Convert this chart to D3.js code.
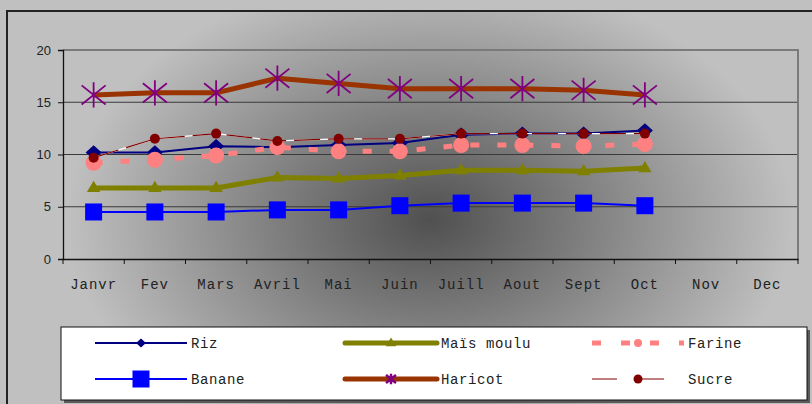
<!DOCTYPE html>
<html><head><meta charset="utf-8">
<script src="https://cdn.jsdelivr.net/npm/d3@7"></script>
<style>html,body{margin:0;padding:0;background:#fff;}svg{display:block;}</style>
</head><body>
<svg id="chart" width="812" height="404"></svg>
<script>
const months = ["Janvr","Fev","Mars","Avril","Mai","Juin","Juill","Aout","Sept","Oct","Nov","Dec"];
const yTicks = [0,5,10,15,20];
const riz = [10.2,10.2,10.8,10.7,10.9,11.1,11.9,12.0,12.0,12.3];
const mais = [6.8,6.8,6.8,7.8,7.7,8.0,8.5,8.5,8.4,8.7];
const farine = [9.2,9.5,9.9,10.7,10.3,10.3,10.9,10.9,10.8,11.0];
const banane = [4.5,4.5,4.5,4.7,4.7,5.1,5.35,5.35,5.35,5.1];
const haricot = [15.7,15.9,15.9,17.3,16.8,16.3,16.3,16.3,16.15,15.7];
const sucre = [9.7,11.5,12.0,11.3,11.5,11.5,12.0,12.0,12.0,12.0];
const seriesNames = ["Riz","Maïs moulu","Farine","Banane","Haricot","Sucre"];

const svg = d3.select("#chart");
const defs = svg.append("defs");
const rg = defs.append("radialGradient").attr("id","bg").attr("gradientUnits","userSpaceOnUse")
  .attr("cx",430).attr("cy",220).attr("r",330)
  .attr("gradientTransform","translate(430,220) scale(1.1,0.75) translate(-430,-220)");
rg.append("stop").attr("offset","0%").attr("stop-color","#505050");
rg.append("stop").attr("offset","40%").attr("stop-color","#7c7c7c");
rg.append("stop").attr("offset","100%").attr("stop-color","#c0c0c0");

svg.append("rect").attr("x",0).attr("y",0).attr("width",812).attr("height",404).attr("fill","#c0c0c0");
svg.append("rect").attr("x",7).attr("y",11).attr("width",820).attr("height",420).attr("fill","url(#bg)")
  .attr("stroke","#222").attr("stroke-width",2);

const L=63, R=798, T=50, B=259;
const x = d3.scaleBand().domain(months).range([L,R]);
const y = d3.scaleLinear().domain([0,20]).range([B,T]);
const cx = i => x(months[i]) + x.bandwidth()/2;

svg.append("g").selectAll("line").data([5,10,15]).join("line")
  .attr("x1",L).attr("x2",R).attr("y1",d=>y(d)).attr("y2",d=>y(d))
  .attr("stroke","#3a3a3a").attr("stroke-width",1.2);
svg.append("path").attr("d",`M${L},${y(20)}H${R}V${B}`).attr("fill","none").attr("stroke","#7a7a7a").attr("stroke-width",2);

const yAxis = svg.append("g").attr("transform",`translate(${L},0)`)
  .call(d3.axisLeft(y).tickValues(yTicks).tickSize(5).tickPadding(7));
yAxis.select(".domain").attr("stroke","#111").attr("stroke-width",1.3);
yAxis.selectAll("line").attr("stroke","#111");
yAxis.selectAll("text").attr("font-family","Liberation Sans, Arial, sans-serif").attr("font-size",13).attr("fill","#222");

const xAxis = svg.append("g").attr("transform",`translate(0,${B})`)
  .call(d3.axisBottom(x).tickSize(0).tickPadding(20));
xAxis.select(".domain").attr("stroke","#111").attr("stroke-width",1.3);
xAxis.selectAll("text").attr("font-family","Liberation Mono, Courier New, monospace").attr("font-size",14)
  .attr("letter-spacing",1).attr("fill","#222");
svg.append("g").selectAll("line").data(d3.range(months.length+1)).join("line")
  .attr("x1",i=>L+i*x.bandwidth()).attr("x2",i=>L+i*x.bandwidth())
  .attr("y1",B).attr("y2",B+5).attr("stroke","#111");

const line = d3.line().x((d,i)=>cx(i)).y(d=>y(d));

function diamond(g,px,py,col,s){g.append("path").attr("d",`M${px},${py-s*0.9}L${px+s},${py}L${px},${py+s*0.9}L${px-s},${py}Z`).attr("fill",col);}
function square(g,px,py,col,s){g.append("rect").attr("x",px-s/2).attr("y",py-s/2).attr("width",s).attr("height",s).attr("fill",col);}
function triangle(g,px,py,col,s){g.append("path").attr("d",`M${px},${py-s*0.8}L${px+s*0.75},${py+s*0.45}L${px-s*0.75},${py+s*0.45}Z`).attr("fill",col);}
function circle(g,px,py,col,r){g.append("circle").attr("cx",px).attr("cy",py).attr("r",r).attr("fill",col);}
function star(g,px,py,col,s,w){
  const p=`M${px-s},${py-s*0.8}L${px+s},${py+s*0.8}M${px+s},${py-s*0.8}L${px-s},${py+s*0.8}M${px},${py-s*1.05}V${py+s*1.05}`;
  g.append("path").attr("d",p).attr("stroke",col).attr("stroke-width",w).attr("fill","none");
}

const series = [
  {name:seriesNames[0], data:riz, col:"#000080", w:2, dash:null, mk:(g,a,b)=>diamond(g,a,b,"#000080",8), lmk:(g,a,b)=>diamond(g,a,b,"#000080",5)},
  {name:seriesNames[1], data:mais, col:"#808000", w:5, dash:null, mk:(g,a,b)=>triangle(g,a,b,"#808000",9), lmk:(g,a,b)=>triangle(g,a,b,"#808000",7)},
  {name:seriesNames[2], data:farine, col:"#ff8080", w:5, dash:"9,18", mk:(g,a,b)=>circle(g,a,b,"#ff8080",8), lmk:(g,a,b)=>circle(g,a,b,"#ff8080",4)},
  {name:seriesNames[3], data:banane, col:"#0000ff", w:2, dash:null, mk:(g,a,b)=>square(g,a,b,"#0000ff",17), lmk:(g,a,b)=>square(g,a,b,"#0000ff",17)},
  {name:seriesNames[4], data:haricot, col:"#993300", w:5, dash:null, mk:(g,a,b)=>star(g,a,b,"#800080",12,1.8), lmk:(g,a,b)=>star(g,a,b,"#800080",5,2.5)},
  {name:seriesNames[5], data:sucre, col:"#800000", w:1.2, dash:"26,8", under:"#ffffff", mk:(g,a,b)=>circle(g,a,b,"#800000",5), lmk:(g,a,b)=>circle(g,a,b,"#800000",4.5)}
];

series.forEach(s=>{
  const g = svg.append("g");
  if(s.under) g.append("path").attr("d",line(s.data)).attr("fill","none").attr("stroke",s.under).attr("stroke-width",1.4);
  g.append("path").attr("d",line(s.data)).attr("fill","none").attr("stroke",s.col).attr("stroke-width",s.w)
    .attr("stroke-dasharray",s.dash).attr("stroke-linejoin","round");
  s.data.forEach((v,i)=>s.mk(g,cx(i),y(v)));
});

svg.append("rect").attr("x",64).attr("y",330).attr("width",746).attr("height",73).attr("fill","#5a5a5a");
svg.append("rect").attr("x",61).attr("y",327).attr("width",746).attr("height",73).attr("fill","#fff").attr("stroke","#111").attr("stroke-width",1);
const colsX=[95,345,592], rowsY=[343,379];
series.forEach((s,k)=>{
  const lx = colsX[k%3], ly = rowsY[Math.floor(k/3)];
  const g = svg.append("g");
  g.append("line").attr("x1",lx).attr("x2",lx+92).attr("y1",ly).attr("y2",ly)
    .attr("stroke",s.col).attr("stroke-width",s.w).attr("stroke-dasharray",s.dash ? (k===5?"25,22":"9,20") : null)
    .attr("stroke-linecap", (s.w>=5 && !s.dash)?"round":"butt");
  s.lmk(g,lx+46,ly);
  g.append("text").attr("x",lx+96).attr("y",ly+5).text(s.name)
    .attr("font-family","Liberation Mono, Courier New, monospace").attr("font-size",14).attr("letter-spacing",0.6).attr("fill","#222");
});
</script>
</body></html>
